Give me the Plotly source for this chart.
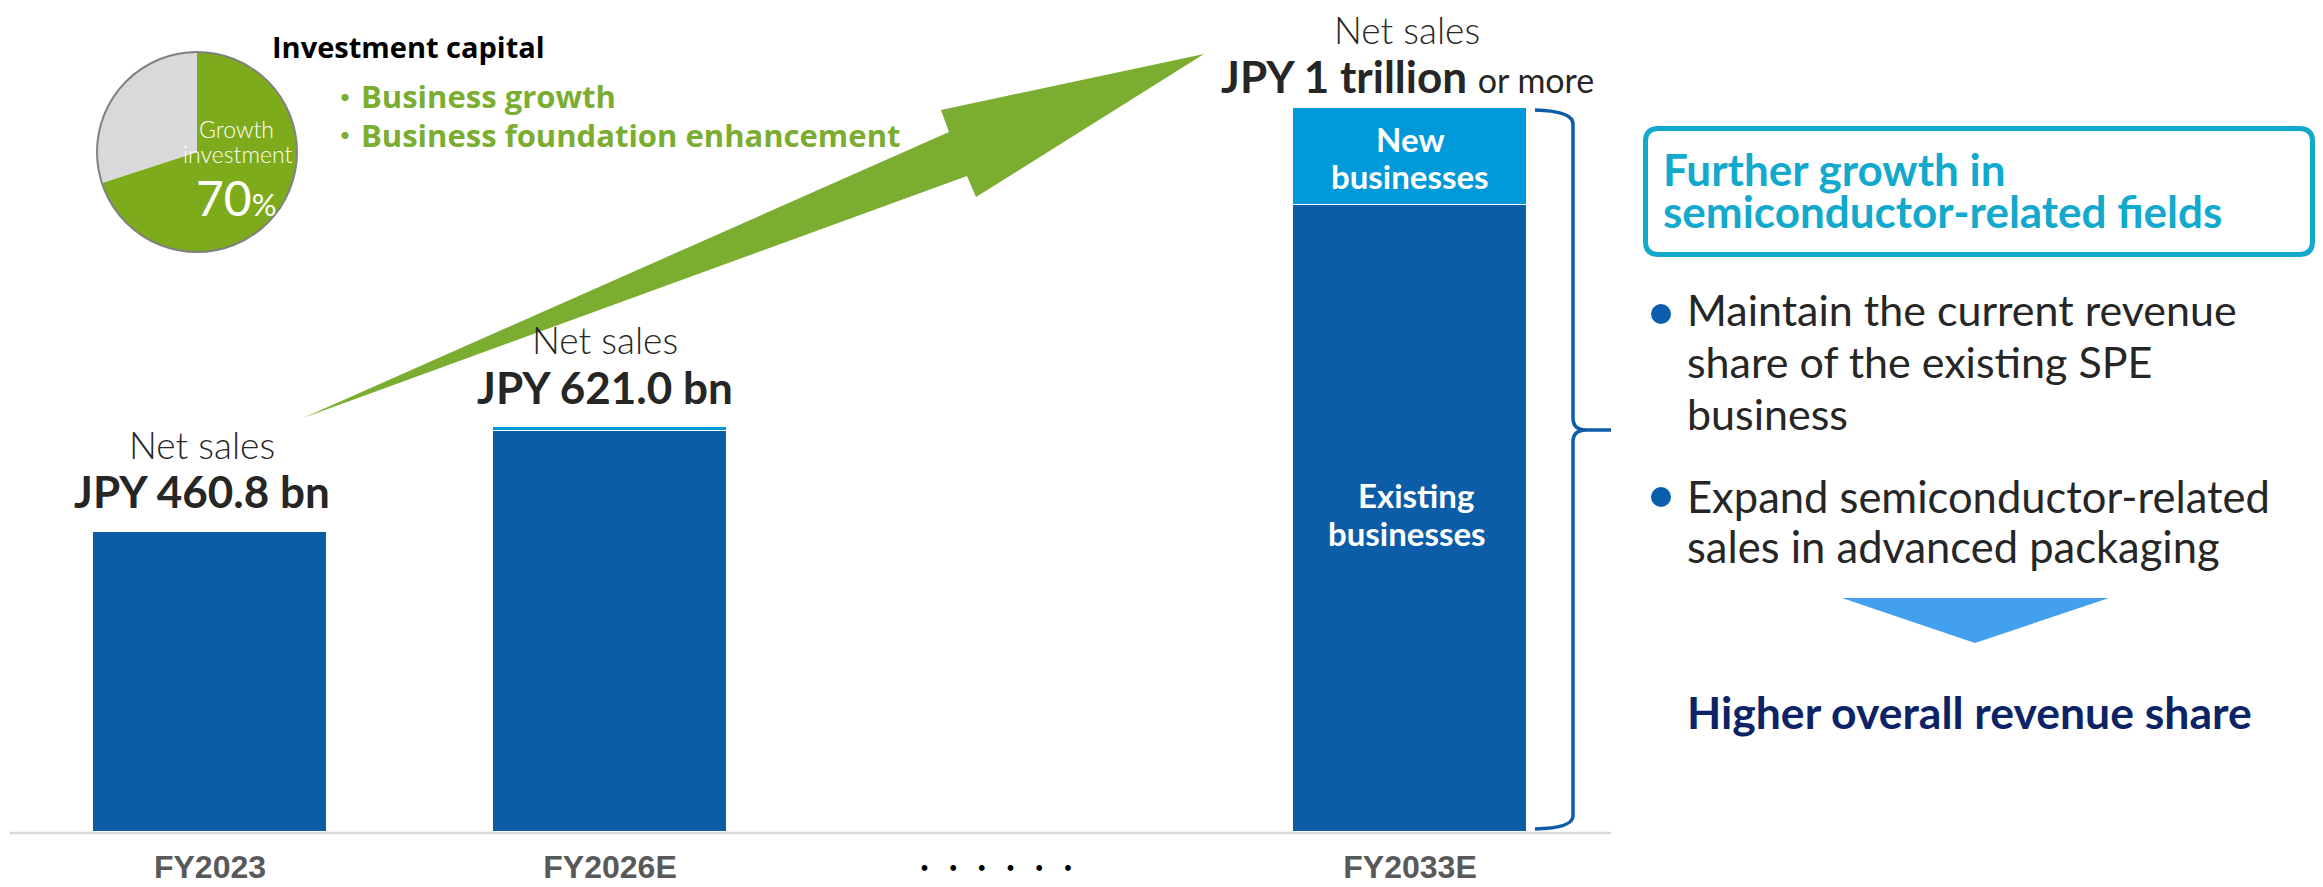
import plotly.graph_objects as go

W, H = 2323, 887          # canvas size in px
BASE_PX = 832             # baseline of the bars (px from top)
PX_PER_BN = 0.6515        # vertical scale: pixels per JPY bn

# ---- data -------------------------------------------------------------
categories = ["FY2023", "FY2026E", "gap", "FY2033E"]
year_ticks = ["FY2023", "FY2026E", "FY2033E"]
existing_sales = [460.8, 616.0, None, 963.0]      # JPY bn
new_sales = [None, 5.0, None, 149.0]              # JPY bn
total_labels = ["JPY 460.8 bn", "JPY 621.0 bn", None,
                "JPY 1 trillion <span style='font-size:34px;font-weight:normal'>or more</span>"]
pie_labels = ["Growth investment", "Other"]
pie_values = [70, 30]

# ---- colours ----------------------------------------------------------
DARK_BLUE = "#0b5da8"
NEW_BLUE = "#0099d9"
GREEN = "#7bad31"
PIE_GREEN = "#7dab1b"
CYAN = "#13a9cc"
NAVY = "#0c2466"
TEXT = "#262626"


def xp(x):
    return x / W


def yp(y):
    return 1 - y / H


def pt(x, y):
    return f"{xp(x):.5f},{yp(y):.5f}"


def poly(points):
    return "M " + " L ".join(pt(x, y) for x, y in points) + " Z"


fig = go.Figure()

fig.add_trace(go.Bar(
    x=categories, y=existing_sales, width=0.585,
    marker=dict(color=DARK_BLUE, line=dict(color="white", width=1)),
    hoverinfo="skip", showlegend=False))
fig.add_trace(go.Bar(
    x=categories, y=new_sales, width=0.585,
    marker=dict(color=NEW_BLUE, line=dict(color="white", width=1)),
    hoverinfo="skip", showlegend=False))

# investment-capital pie (top left)
PIE_CX, PIE_CY, PIE_R = 197, 152, 100
fig.add_trace(go.Pie(
    labels=pie_labels, values=pie_values, sort=False, direction="clockwise",
    rotation=0, textinfo="none", hoverinfo="skip", showlegend=False,
    marker=dict(colors=[PIE_GREEN, "#d9d9d9"], line=dict(width=0)),
    domain=dict(x=[xp(PIE_CX - PIE_R), xp(PIE_CX + PIE_R)],
                y=[yp(PIE_CY + PIE_R), yp(PIE_CY - PIE_R)])))

plot_top = BASE_PX / PX_PER_BN
fig.update_layout(
    width=W, height=H, margin=dict(l=0, r=0, t=0, b=0),
    paper_bgcolor="white", plot_bgcolor="white", template="none",
    barmode="stack", bargap=0,
    xaxis=dict(type="category", categoryorder="array", categoryarray=categories,
               range=[-210 / 400, (W - 210) / 400], tickvals=year_ticks,
               ticktext=year_ticks, showgrid=False, zeroline=False, showline=False,
               ticks="", ticklabelstandoff=13, automargin=False,
               tickfont=dict(family="Liberation Sans", size=32, color="#595959", weight="bold")),
    yaxis=dict(domain=[1 - BASE_PX / H, 1], range=[0, plot_top], visible=False,
               automargin=False),
)

shapes = []
# baseline
shapes.append(dict(type="line", xref="paper", yref="paper", x0=xp(10), x1=xp(1611),
                   y0=yp(833), y1=yp(833), line=dict(color="#d9d9d9", width=2.5), layer="below"))
# pie outline
shapes.append(dict(type="circle", xref="paper", yref="paper",
                   x0=xp(PIE_CX - PIE_R), x1=xp(PIE_CX + PIE_R),
                   y0=yp(PIE_CY + PIE_R), y1=yp(PIE_CY - PIE_R),
                   line=dict(color="#808080", width=2)))
# growth arrow
arrow = [(303, 418), (949, 132), (941, 110), (1204, 54), (976, 197), (967, 176)]
shapes.append(dict(type="path", xref="paper", yref="paper", path=poly(arrow),
                   fillcolor=GREEN, line=dict(width=0)))
# curly brace beside the FY2033E bar
brace = (f"M {pt(1535, 110)} Q {pt(1573, 111)} {pt(1573, 124)} L {pt(1573, 418)} "
         f"Q {pt(1573, 430)} {pt(1586, 430)} L {pt(1611, 430)} "
         f"M {pt(1586, 430)} Q {pt(1573, 430)} {pt(1573, 442)} L {pt(1573, 816)} "
         f"Q {pt(1573, 828)} {pt(1535, 829)}")
shapes.append(dict(type="path", xref="paper", yref="paper", path=brace,
                   line=dict(color=DARK_BLUE, width=3.5)))
# rounded box around the heading
L, T, R, B, r = 1645.5, 128.5, 2312.5, 254.5, 13
box = (f"M {pt(L + r, T)} L {pt(R - r, T)} Q {pt(R, T)} {pt(R, T + r)} "
       f"L {pt(R, B - r)} Q {pt(R, B)} {pt(R - r, B)} L {pt(L + r, B)} "
       f"Q {pt(L, B)} {pt(L, B - r)} L {pt(L, T + r)} Q {pt(L, T)} {pt(L + r, T)} Z")
shapes.append(dict(type="path", xref="paper", yref="paper", path=box,
                   line=dict(color=CYAN, width=5)))
# bullet dots
for cy in (314, 497):
    shapes.append(dict(type="circle", xref="paper", yref="paper",
                       x0=xp(1651), x1=xp(1671), y0=yp(cy + 10), y1=yp(cy - 10),
                       fillcolor="#0b5eab", line=dict(width=0)))
# down triangle
shapes.append(dict(type="path", xref="paper", yref="paper",
                   path=poly([(1842, 598), (2109, 598), (1975, 643)]),
                   fillcolor="#42a0ef", line=dict(width=0)))
fig.update_layout(shapes=shapes)


def text(x, y, s, size, color=TEXT, family="Lato", weight="normal", anchor="left"):
    fig.add_annotation(x=xp(x), y=yp(y), xref="paper", yref="paper", text=s,
                       showarrow=False, xanchor=anchor, yanchor="middle",
                       font=dict(family=family, size=size, color=color, weight=weight))


# pie heading and bullets
text(270, 46.5, "Investment capital", 29, "#000000", "Open Sans", "bold")
text(345, 97, "・", 28, GREEN, "Noto Sans CJK JP", "bold", "center")
text(345, 135, "・", 28, GREEN, "Noto Sans CJK JP", "bold", "center")
text(359, 96, "Business growth", 31, GREEN, "Open Sans", "bold")
text(359, 135, "Business foundation enhancement", 31, GREEN, "Open Sans", "bold")
# pie labels
text(236, 129, "Growth", 23, "white", "Lato", 300, "center")
text(237, 154, "investment", 23, "white", "Lato", 300, "center")
text(236, 197, "70<span style='font-size:31px'>%</span>", 48, "white", "Lato", "normal", "center")

# bar value labels
value_gap = [40.5, 40.5, None, 31.5]
title_gap = [87.5, 87.5, None, 78.5]
label_xshift = [-8, -5, 0, -3]
for i, cat in enumerate(categories):
    if total_labels[i] is None:
        continue
    total = existing_sales[i] + (new_sales[i] or 0)
    fig.add_annotation(x=cat, y=total, xref="x", yref="y", text="Net sales",
                       showarrow=False, yanchor="middle", yshift=title_gap[i],
                       xshift=label_xshift[i],
                       font=dict(family="Lato", size=37, color=TEXT, weight=300))
    fig.add_annotation(x=cat, y=total, xref="x", yref="y", text=total_labels[i],
                       showarrow=False, yanchor="middle", yshift=value_gap[i],
                       xshift=label_xshift[i],
                       font=dict(family="Lato", size=44, color=TEXT, weight="bold"))

# segment labels in the FY2033E bar
last = categories[-1]
seg_new_mid = existing_sales[-1] + new_sales[-1] / 2
seg_font = dict(family="Lato", size=33, color="white", weight="bold")
fig.add_annotation(x=last, y=seg_new_mid, xref="x", yref="y", text="New", showarrow=False,
                   yanchor="middle", yshift=17, font=seg_font)
fig.add_annotation(x=last, y=seg_new_mid, xref="x", yref="y", text="businesses",
                   showarrow=False, yanchor="middle", yshift=-20, font=seg_font)
seg_old_mid = existing_sales[-1] / 2
fig.add_annotation(x=last, y=seg_old_mid, xref="x", yref="y", text="Existing",
                   showarrow=False, yanchor="middle", yshift=23, xshift=6, font=seg_font)
fig.add_annotation(x=last, y=seg_old_mid, xref="x", yref="y", text="businesses",
                   showarrow=False, yanchor="middle", yshift=-15, xshift=-3, font=seg_font)

# ellipsis between FY2026E and FY2033E
fig.add_annotation(x="gap", y=0, xref="x", yref="y",
                   text="\u200a".join(["・"] * 6), showarrow=False,
                   yanchor="middle", yshift=-34.5, xshift=-14,
                   font=dict(family="Noto Sans CJK JP", size=27, color="#000000"))

# right-hand panel
text(1661, 169, "Further growth in", 44, CYAN, "Lato", "bold")
text(1661, 211, "semiconductor-related fields", 44, CYAN, "Lato", "bold")
text(1685, 310, "Maintain the current revenue", 43)
text(1685, 361, "share of the existing SPE", 43)
text(1685, 413, "business", 43)
text(1685, 496, "Expand semiconductor-related", 43.5)
text(1685, 546, "sales in advanced packaging", 43.5)
text(1685, 711, "Higher overall revenue share", 44.5, NAVY, "Lato", "bold")

fig.write_html("out.html")
